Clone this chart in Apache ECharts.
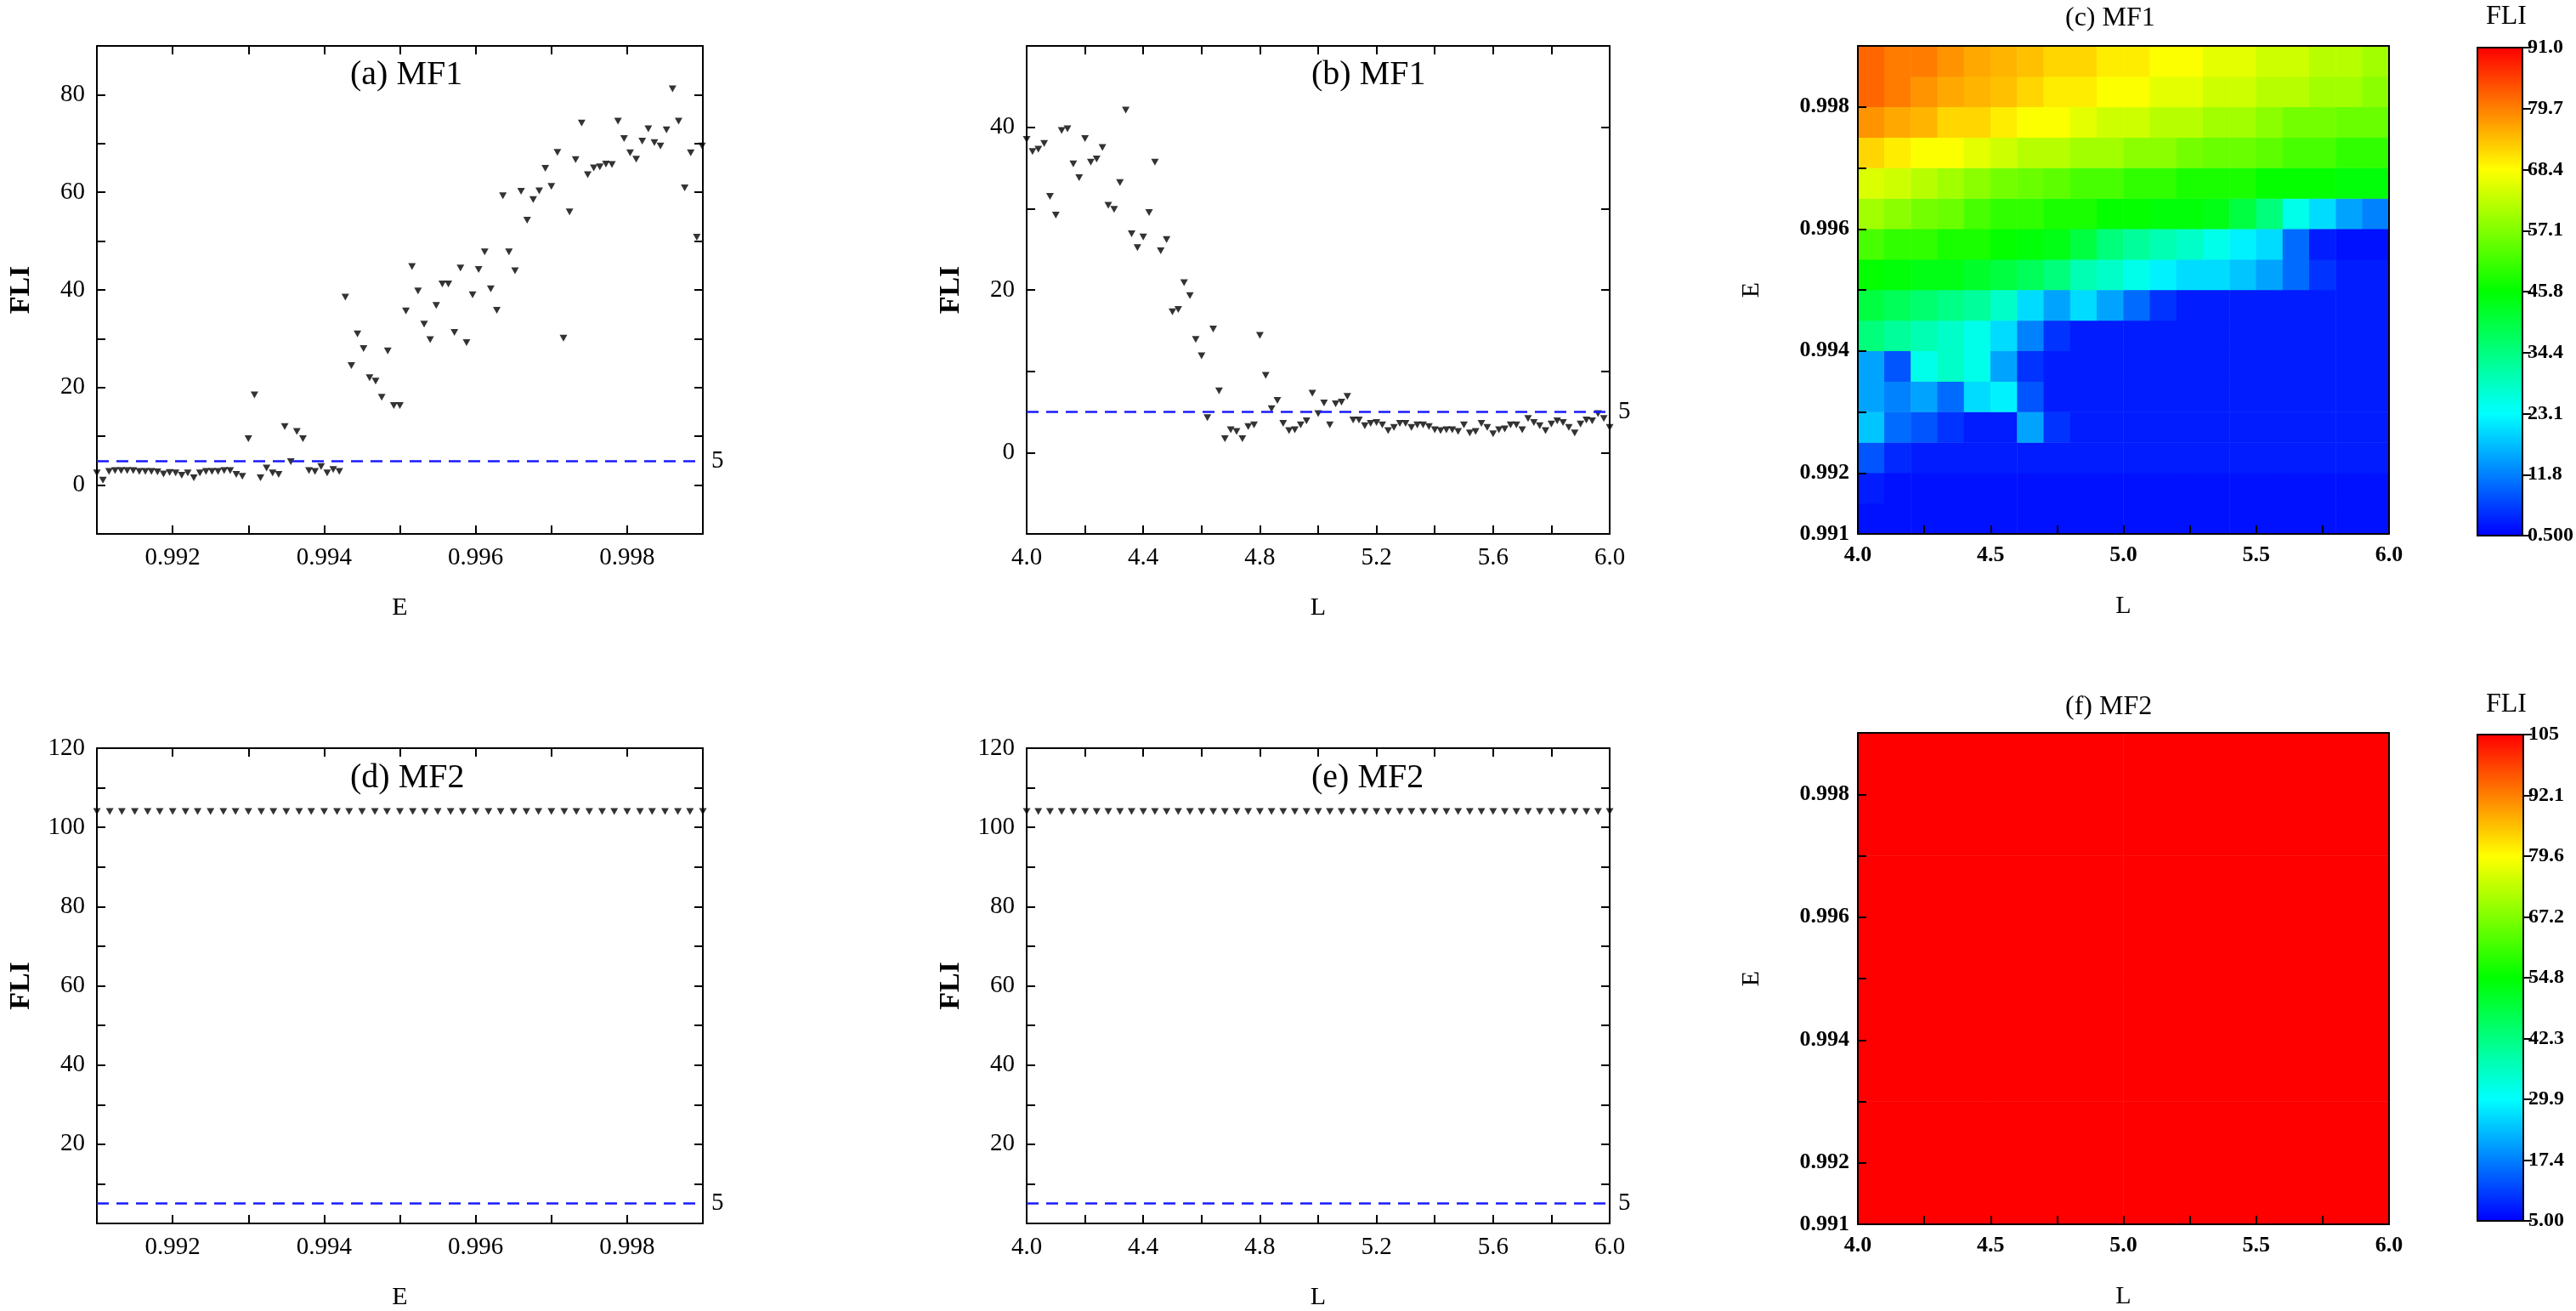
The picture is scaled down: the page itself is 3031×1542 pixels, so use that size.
<!DOCTYPE html>
<html><head><meta charset="utf-8">
<script src="https://cdn.jsdelivr.net/npm/echarts@6/dist/echarts.min.js"></script>
<style>html,body{margin:0;padding:0;background:#fff}#c{width:3031px;height:1542px}</style>
</head><body><div id="c"></div>
<script>
// ---- data ----
const aE = [0.99100,0.99108,0.99116,0.99124,0.99132,0.99140,0.99148,0.99156,0.99164,0.99172,0.99180,0.99188,0.99196,0.99204,0.99212,0.99220,0.99228,0.99236,0.99244,0.99252,0.99260,0.99268,0.99276,0.99284,0.99292,
0.99300,0.99308,0.99316,0.99324,0.99332,0.99340,0.99348,0.99356,0.99364,0.99372,0.99380,0.99388,0.99396,0.99404,0.99412,0.99420,0.99428,0.99436,0.99444,0.99452,0.99460,0.99468,0.99476,0.99484,0.99492,0.99500,
0.99508,0.99516,0.99524,0.99532,0.99540,0.99548,0.99556,0.99564,0.99572,0.99580,0.99588,0.99596,0.99604,0.99612,0.99620,0.99628,0.99636,0.99644,0.99652,0.99660,0.99668,0.99676,0.99684,0.99692,0.99700,
0.99708,0.99716,0.99724,0.99732,0.99740,0.99748,0.99756,0.99764,0.99772,0.99780,0.99788,0.99796,0.99804,0.99812,0.99820,0.99828,0.99836,0.99844,0.99852,0.99860,0.99868,0.99876,0.99884,0.99892,0.99899];
const aFLI = [2.5,1.0,2.8,3.0,3.0,3.0,3.0,2.8,2.8,2.8,2.7,2.3,2.6,2.5,2.0,2.5,1.5,2.5,2.8,2.8,2.8,3.0,3.0,2.2,1.8,
9.5,18.5,1.5,3.5,2.5,2.2,12,4.8,11,9.5,3.0,2.8,3.8,2.5,3.2,2.8,38.5,24.5,31,28,22,21.3,18,27.5,16.3,16.3,
35.7,44.8,39.8,33,29.8,36.8,41.2,41.2,31.3,44.5,29.2,39,44.2,47.8,40.2,35.8,59.3,47.8,43.9,60.2,54.3,58.5,60.3,64.9,61.2,
68.2,30.1,56,66.7,74.2,63.6,65,65.2,65.8,65.7,74.6,71,68.1,66.8,70.5,73,70.2,69.5,72.8,81.2,74.6,60.9,68.1,50.8,69.5];
const bL = [4.00,4.02,4.04,4.06,4.08,4.10,4.12,4.14,4.16,4.18,4.20,4.22,4.24,4.26,4.28,4.30,4.32,4.34,4.36,4.38,4.40,4.42,4.44,4.46,4.48,4.50,4.52,4.54,4.56,4.58,4.60,4.62,4.64,4.66,4.68,4.70,4.72,4.74,4.76,4.78,4.80,4.82,4.84,4.86,4.88,4.90,4.92,4.94,4.96,4.98,5.00,
5.02,5.04,5.06,5.08,5.10,5.12,5.14,5.16,5.18,5.20,5.22,5.24,5.26,5.28,5.30,5.32,5.34,5.36,5.38,5.40,5.42,5.44,5.46,5.48,5.50,5.52,5.54,5.56,5.58,5.60,5.62,5.64,5.66,5.68,5.70,5.72,5.74,5.76,5.78,5.80,5.82,5.84,5.86,5.88,5.90,5.92,5.94,5.96,5.98,6.00];
const bFLI = [38.5,37,37.3,38,31.5,29.2,39.6,39.8,35.5,33.8,38.6,35.7,36.1,37.5,30.4,29.9,33.2,42.1,26.9,25.2,26.5,29.5,35.7,24.8,26.2,17.3,17.6,20.9,19.3,13.9,11.9,4.3,15.2,7.6,1.7,2.8,2.6,1.7,3.2,3.4,14.4,9.5,5.4,6.4,3.6,2.7,2.8,3.4,3.9,7.3,4.8,
6.1,3.4,6.0,6.2,6.9,4.0,4.0,3.3,3.6,3.7,3.4,2.7,3.1,3.6,3.6,3.1,3.4,3.4,3.2,2.8,2.7,2.8,2.8,2.6,3.4,2.4,2.6,3.6,3.1,2.3,2.8,2.9,3.4,3.4,2.8,4.2,3.7,3.3,2.7,3.5,3.9,3.7,3.1,2.4,3.5,4.0,3.9,4.8,4.2,3.1];
const dE = [0.99100,0.99117,0.99133,0.99150,0.99167,0.99183,0.99200,0.99217,0.99233,0.99250,0.99267,0.99283,0.99300,0.99317,0.99333,0.99350,0.99367,0.99383,0.99400,0.99417,0.99433,0.99450,0.99467,0.99483,0.99500,0.99517,0.99533,0.99550,0.99567,0.99583,0.99600,0.99617,0.99633,0.99650,0.99667,0.99683,0.99700,0.99717,0.99733,0.99750,0.99767,0.99783,0.99800,0.99817,0.99833,0.99850,0.99867,0.99883,0.99900];
const dFLI = [104,104,104,104,104,104,104,104,104,104,104,104,104,104,104,104,104,104,104,104,104,104,104,104,104,104,104,104,104,104,104,104,104,104,104,104,104,104,104,104,104,104,104,104,104,104,104,104,104];
const eL = [4.00,4.04,4.08,4.12,4.16,4.20,4.24,4.28,4.32,4.36,4.40,4.44,4.48,4.52,4.56,4.60,4.64,4.68,4.72,4.76,4.80,4.84,4.88,4.92,4.96,5.00,5.04,5.08,5.12,5.16,5.20,5.24,5.28,5.32,5.36,5.40,5.44,5.48,5.52,5.56,5.60,5.64,5.68,5.72,5.76,5.80,5.84,5.88,5.92,5.96,6.00];
const eFLI = [104,104,104,104,104,104,104,104,104,104,104,104,104,104,104,104,104,104,104,104,104,104,104,104,104,104,104,104,104,104,104,104,104,104,104,104,104,104,104,104,104,104,104,104,104,104,104,104,104,104,104];
const threshold = 5;
// heatmap (c): columns L 4.0..6.0 (20 cells), rows E 0.991..0.999 (16 cells, bottom first)
const hL = ['4.05','4.15','4.25','4.35','4.45','4.55','4.65','4.75','4.85','4.95','5.05','5.15','5.25','5.35','5.45','5.55','5.65','5.75','5.85','5.95'];
const hE = ['0.99125','0.99175','0.99225','0.99275','0.99325','0.99375','0.99425','0.99475','0.99525','0.99575','0.99625','0.99675','0.99725','0.99775','0.99825','0.99875'];
const cFLI = [
[2,2,2,2,2,2,2,2,2,2,2,2,2,2,2,2,2,2,2,2],
[3,2,2,2,2,2,2,2,2,2,2,2,2,2,2,2,2,2,2,2],
[8,4,3,3,3,3,3,3,3,3,3,3,3,3,3,3,3,3,3,3],
[18,10,8,5,3,3,15,5,3,3,3,3,3,3,3,3,3,3,3,3],
[15,12,15,10,20,22,8,3,3,3,3,3,3,3,3,3,3,3,3,3],
[15,8,25,28,25,15,5,3,3,3,3,3,3,3,3,3,3,3,3,3],
[35,32,30,28,25,20,12,5,3,3,3,3,3,3,3,3,3,3,3,3],
[40,38,36,34,32,28,20,15,20,15,10,5,3,3,3,3,3,3,3,3],
[46,45,44,44,42,40,38,35,30,28,25,22,20,20,18,15,10,5,3,3],
[52,50,50,48,48,46,45,44,40,35,32,30,28,25,22,20,10,3,2,2],
[60,58,56,55,52,50,50,48,48,46,46,45,45,44,40,35,25,20,15,12],
[65,64,62,60,58,56,55,54,52,52,50,50,48,48,48,46,46,46,45,45],
[72,70,68,68,66,64,62,62,60,60,58,58,56,55,55,54,52,52,50,50],
[78,76,75,72,72,70,68,68,66,64,64,62,62,60,60,58,56,56,55,55],
[82,80,78,76,75,74,72,70,70,68,68,66,66,64,64,62,62,60,60,58],
[82,80,80,78,76,75,74,72,72,70,70,68,68,66,66,64,64,62,62,60]];
const fL = ['4.25','4.75','5.25','5.75'];
const fE = ['0.992','0.994','0.996','0.998'];
const fFLI = [[105,105,105,105],[105,105,105,105],[105,105,105,105],[105,105,105,105]];
const cBarTicks = ['0.500','11.8','23.1','34.4','45.8','57.1','68.4','79.7','91.0'];
const fBarTicks = ['5.00','17.4','29.9','42.3','54.8','67.2','79.6','92.1','105'];

// ---- chart ----
const SERIF = 'Liberation Serif';
const ramp = ['#0000ff','#0080ff','#00ffff','#00ff80','#00ff00','#80ff00','#ffff00','#ff8000','#ff0000'];
const grids = [
 {left:114,top:54,width:713,height:574},   //0 a
 {left:1208,top:54,width:686,height:574},  //1 b
 {left:2186,top:54,width:625,height:574},  //2 c heat
 {left:2186,top:54,width:625,height:574},  //3 c axes
 {left:2915,top:56,width:54,height:574},   //4 c bar
 {left:114,top:880,width:713,height:560},  //5 d
 {left:1208,top:880,width:686,height:560}, //6 e
 {left:2186,top:862,width:625,height:578}, //7 f heat
 {left:2186,top:862,width:625,height:578}, //8 f axes
 {left:2915,top:864,width:54,height:572}   //9 f bar
];
const xAxis=[], yAxis=[], series=[], graphic=[];
const lab = {fontFamily:SERIF,fontSize:29,color:'#000'};
const line = {show:true,onZero:false,lineStyle:{color:'#000',width:2}};
function tickLbl(fmt){return Object.assign({formatter:fmt,margin:14},lab);}
function scatterPanel(g,xr,yr,xfmt,yfmt,xs,ys,xname){
  const xi=xAxis.length, yi=yAxis.length;
  xAxis.push({type:'value',gridIndex:g,min:xr[0],max:xr[1],interval:xr[2],axisLine:line,axisTick:{inside:true,length:10,lineStyle:{width:2}},splitLine:{show:false},axisLabel:tickLbl(xfmt),
    name:xname,nameLocation:'middle',nameGap:72,nameTextStyle:{fontFamily:SERIF,fontSize:30,color:'#000'}});
  xAxis.push({type:'value',gridIndex:g,position:'top',min:xr[0],max:xr[1],interval:xr[2],axisLine:line,axisTick:{inside:true,length:10,lineStyle:{width:2}},splitLine:{show:false},axisLabel:{show:false}});
  yAxis.push({type:'value',gridIndex:g,min:yr[0],max:yr[1],interval:yr[2],axisLine:line,axisTick:{inside:true,length:10,lineStyle:{width:2}},splitLine:{show:false},axisLabel:tickLbl(yfmt),
    name:'FLI',nameLocation:'middle',nameGap:72,nameRotate:90,nameTextStyle:{fontFamily:SERIF,fontSize:34,fontWeight:'bold',color:'#000'}});
  yAxis.push({type:'value',gridIndex:g,position:'right',min:yr[0],max:yr[1],interval:yr[2],axisLine:line,axisTick:{inside:true,length:10,lineStyle:{width:2}},splitLine:{show:false},axisLabel:{show:false}});
  series.push({type:'scatter',xAxisIndex:xi,yAxisIndex:yi,symbol:'triangle',symbolRotate:180,symbolSize:[9,8],itemStyle:{color:'#000'},
    data:xs.map((x,i)=>[x,ys[i]]),
    markLine:{silent:true,symbol:'none',lineStyle:{color:'#1a1aff',type:[14,9],width:2.5},label:{position:'end',formatter:'5',fontFamily:SERIF,fontSize:29,color:'#000',distance:10},data:[{yAxis:threshold}]}});
}
const fmtE = v=>{const k=Math.round(v*1000);return (k%2===0 && k<999)?(k/1000).toFixed(3):'';};
const fmtY20 = v=>(Math.round(v)%20===0 && v>=0)?String(Math.round(v)):'';
const fmtY20nz = v=>(Math.round(v)%20===0 && v>0)?String(Math.round(v)):'';
const fmtL = v=>{const k=Math.round(v*10);return k%4===0?(k/10).toFixed(1):'';};
scatterPanel(0,[0.991,0.999,0.001],[-10,90,10],fmtE,fmtY20,aE,aFLI,'E');
scatterPanel(1,[4.0,6.0,0.2],[-10,50,10],fmtL,fmtY20,bL,bFLI,'L');
scatterPanel(5,[0.991,0.999,0.001],[0,120,10],fmtE,fmtY20nz,dE,dFLI,'E');
scatterPanel(6,[4.0,6.0,0.2],[0,120,10],fmtL,fmtY20nz,eL,eFLI,'L');

const hlab = {fontFamily:SERIF,fontSize:26,fontWeight:'bold',color:'#000'};
const bline = {show:true,onZero:false,lineStyle:{color:'#000',width:2}};
function heatPanel(gh,ga,gb,xs,ys,vals,barTicks){
  const xi=xAxis.length, yi=yAxis.length;
  xAxis.push({type:'category',gridIndex:gh,data:xs,show:false});
  yAxis.push({type:'category',gridIndex:gh,data:ys,show:false});
  const data=[];
  vals.forEach((row,r)=>row.forEach((v,c)=>data.push([c,r,v])));
  series.push({type:'heatmap',xAxisIndex:xi,yAxisIndex:yi,data:data,itemStyle:{borderWidth:0},progressive:0});
  const si=series.length-1;
  const ax=xAxis.length, ay=yAxis.length;
  xAxis.push({type:'value',gridIndex:ga,min:4,max:6,interval:0.25,axisLine:line,axisTick:{inside:true,length:10,lineStyle:{width:2}},splitLine:{show:false},
    axisLabel:Object.assign({formatter:v=>{const k=Math.round(v*100);return k%50===0?(k/100).toFixed(1):'';},margin:12},hlab),
    name:'L',nameLocation:'middle',nameGap:70,nameTextStyle:{fontFamily:SERIF,fontSize:30,color:'#000'},z:5});
  yAxis.push({type:'value',gridIndex:ga,min:0.991,max:0.999,interval:0.001,axisLine:line,axisTick:{inside:true,length:10,lineStyle:{width:2}},splitLine:{show:false},
    axisLabel:Object.assign({formatter:v=>{const k=Math.round(v*1000);return (k===991||(k%2===0&&k<999))?(k/1000).toFixed(3):'';},margin:10},hlab),
    name:'E',nameLocation:'middle',nameGap:110,nameRotate:90,nameTextStyle:{fontFamily:SERIF,fontSize:30,color:'#000'},z:5});
  xAxis.push({type:'value',gridIndex:ga,position:'top',min:4,max:6,axisLine:line,axisTick:{show:false},axisLabel:{show:false},splitLine:{show:false},z:5});
  yAxis.push({type:'value',gridIndex:ga,position:'right',min:0.991,max:0.999,axisLine:line,axisTick:{show:false},axisLabel:{show:false},splitLine:{show:false},z:5});
  series.push({type:'scatter',xAxisIndex:ax,yAxisIndex:ay,data:[]});
  const bx=xAxis.length, by=yAxis.length;
  xAxis.push({type:'value',gridIndex:gb,min:0,max:1,axisLine:bline,axisTick:{show:false},axisLabel:{show:false},splitLine:{show:false},z:5});
  yAxis.push({type:'value',gridIndex:gb,position:'right',min:0,max:8,interval:1,axisLine:bline,axisTick:{show:true,length:10,lineStyle:{width:2}},splitLine:{show:false},
    axisLabel:{formatter:v=>barTicks[Math.round(v)],margin:6,fontFamily:SERIF,fontSize:24,fontWeight:'bold',color:'#000'},z:5});
  yAxis.push({type:'value',gridIndex:gb,position:'left',min:0,max:8,axisLine:bline,axisTick:{show:false},axisLabel:{show:false},splitLine:{show:false},z:5});
  xAxis.push({type:'value',gridIndex:gb,position:'top',min:0,max:1,axisLine:bline,axisTick:{show:false},axisLabel:{show:false},splitLine:{show:false},z:5});
  series.push({type:'scatter',xAxisIndex:bx,yAxisIndex:by,data:[]});
  return si;
}
const sc = heatPanel(2,3,4,hL,hE,cFLI,cBarTicks);
const sf = heatPanel(7,8,9,fL,fE,fFLI,fBarTicks);

const visualMap=[
 {type:'continuous',seriesIndex:sc,min:0.5,max:91,inRange:{color:ramp},calculable:false,left:2915,top:56,itemWidth:54,itemHeight:574,padding:0,text:null,z:1},
 {type:'continuous',seriesIndex:sf,min:5,max:105,inRange:{color:ramp},calculable:false,left:2915,top:864,itemWidth:54,itemHeight:572,padding:0,text:null,z:1}
];
const T=(t,x,y,s)=>({type:'text',left:x,top:y,style:{text:t,font:`${s}px "${SERIF}"`,fill:'#000',textAlign:'center'}});
graphic.push(T('(a) MF1',412,68,40),T('(b) MF1',1543,68,40),T('(d) MF2',412,895,40),T('(e) MF2',1543,895,40),
  T('(c) MF1',2430,6,32),T('(f) MF2',2430,816,32),T('FLI',2925,4,32),T('FLI',2925,813,32));
const chart=echarts.init(document.getElementById('c'));
chart.setOption({animation:false,backgroundColor:'#fff',grid:grids,xAxis,yAxis,series,visualMap,graphic});
</script></body></html>
